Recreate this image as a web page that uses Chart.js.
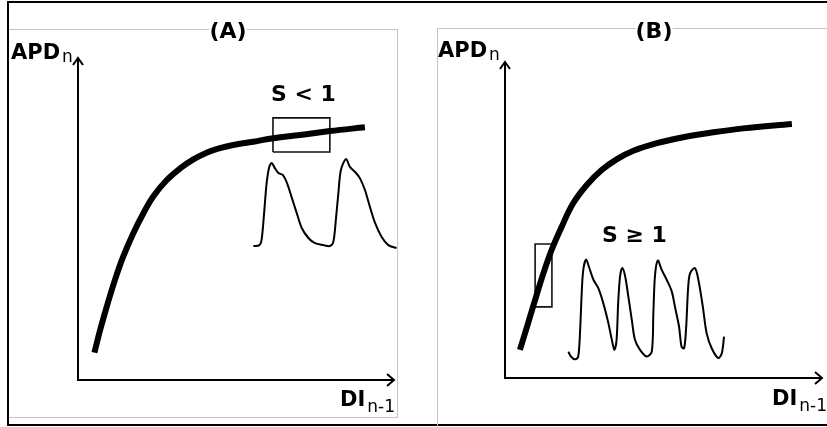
<!DOCTYPE html>
<html>
<head>
<meta charset="utf-8">
<script src="https://cdn.jsdelivr.net/npm/chart.js@4/dist/chart.umd.min.js"></script>
<style>
  body { margin: 0; background: #fff; }
  #page { position: relative; width: 827px; height: 427px; overflow: hidden; background: #fff; font-family: "DejaVu Sans", Verdana, sans-serif; }
  .frame { position: absolute; left: 7px; top: 1px; width: 822px; height: 421px; border-top: 2px solid #000; border-left: 2px solid #000; border-bottom: 2px solid #000; }
  .panelA { position: absolute; left: 9px; top: 29px; width: 388px; height: 387px; border-top: 1px solid #c4c4c4; border-right: 1px solid #c4c4c4; border-bottom: 1px solid #c4c4c4; }
  .panelB { position: absolute; left: 437px; top: 28px; width: 400px; height: 400px; border-top: 1px solid #c4c4c4; border-left: 1px solid #c4c4c4; }
  canvas { position: absolute; }
  .lbl { position: absolute; line-height: 1; font-weight: bold; color: #000; white-space: nowrap; }
  .lbl sub { font-weight: normal; font-size: 17px; vertical-align: -3px; margin-left: 2px; }
  .title { background: #fff; transform: translateX(-50%); font-size: 22px; }
</style>
</head>
<body>
<div id="page">
  <div class="frame"></div>
  <div class="panelA"></div>
  <div class="panelB"></div>
  <canvas id="chartA" width="399" height="422" style="left:8px; top:3px;"></canvas>
  <canvas id="chartB" width="419" height="422" style="left:408px; top:3px;"></canvas>

  <div class="lbl title" style="left:228px; top:20px;">(A)</div>
  <div class="lbl" style="left:11px; top:42px; font-size:21px;">APD<sub>n</sub></div>
  <div class="lbl" style="left:271px; top:83px; font-size:22px;">S &lt; 1</div>
  <div class="lbl" style="left:340px; top:389px; font-size:21px;">DI<sub style="vertical-align:-6px">n-1</sub></div>

  <div class="lbl title" style="left:654px; top:20px;">(B)</div>
  <div class="lbl" style="left:438px; top:40px; font-size:21px;">APD<sub>n</sub></div>
  <div class="lbl" style="left:602px; top:224px; font-size:22px;">S ≥ 1</div>
  <div class="lbl" style="left:772px; top:388px; font-size:21px;">DI<sub style="vertical-align:-6px">n-1</sub></div>
</div>

<script>
// panel A - restitution curve (DI n-1 vs APD n), flat part
var curveAx = [5.2, 7.0, 9.1, 11.7, 14.3, 17.5, 20.7, 23.8, 28.1, 32.3, 36.5, 40.7, 44.9, 49.1, 55.5, 61.8, 70.3, 79.7, 90.8];
var curveAy = [8.5, 15.5, 22.8, 31.1, 38.3, 45.6, 51.8, 57.0, 62.1, 65.7, 68.5, 70.6, 72.0, 73.0, 74.0, 75.1, 76.1, 77.3, 78.5];
var boxAx = [61.7, 79.7, 79.7, 61.7, 61.7];
var boxAy = [70.8, 70.8, 81.4, 81.4, 70.8];
var waveAx = [55.5, 57.4, 58.1, 58.9, 59.7, 60.5, 61.3, 62.3, 63.4, 64.8, 66.0, 67.6, 69.2, 70.8, 72.9, 75.0, 77.6, 79.7, 80.8, 81.6, 82.4, 83.2, 84.8, 86.1, 87.7, 89.2, 90.8, 92.4, 94.0, 96.1, 98.2, 100.8];
var waveAy = [41.6, 41.9, 43.5, 51.9, 61.2, 66.1, 67.4, 65.8, 64.3, 63.7, 61.5, 56.8, 51.9, 47.2, 44.1, 42.5, 41.9, 41.6, 42.9, 49.7, 58.1, 65.2, 68.6, 66.1, 64.6, 62.7, 59.0, 53.7, 48.8, 44.4, 41.9, 41.0];

// panel B - steep part of the curve, alternans
var curveBx = [4.7, 6.3, 7.9, 9.8, 12.1, 14.7, 17.9, 21.5, 25.8, 30.5, 35.2, 40.5, 47.9, 56.2, 64.7, 75.2, 90.5];
var curveBy = [8.9, 14.1, 19.4, 25.7, 33.1, 40.5, 47.9, 55.3, 61.1, 65.8, 69.2, 71.9, 74.3, 76.2, 77.6, 79.0, 80.4];
var boxBx = [9.5, 14.8, 14.8, 9.5, 9.5];
var boxBy = [22.5, 22.5, 42.4, 42.4, 22.5];
var waveBx = [20.0, 20.8, 22.1, 23.1, 23.7, 24.2, 24.7, 25.6, 26.6, 27.9, 29.4, 31.0, 32.6, 33.7, 34.5, 35.2, 35.7, 36.3, 37.0, 37.9, 38.9, 40.0, 41.0, 42.6, 44.7, 46.3, 46.8, 47.3, 48.2, 49.4, 51.0, 52.6, 53.6, 54.9, 55.7, 56.5, 57.1, 57.8, 58.4, 59.9, 61.0, 62.4, 63.6, 65.2, 67.3, 68.4, 69.1];
var waveBy = [8.3, 6.8, 5.9, 6.8, 15.2, 27.0, 34.3, 37.5, 34.8, 31.1, 28.5, 23.7, 17.4, 12.1, 8.9, 12.1, 23.7, 32.2, 34.8, 32.2, 25.8, 18.4, 12.1, 8.9, 6.8, 8.3, 20.5, 32.2, 37.2, 34.3, 31.1, 27.4, 22.6, 16.3, 9.9, 9.4, 15.2, 29.0, 33.2, 34.8, 31.1, 22.6, 14.2, 9.4, 6.3, 7.8, 13.1];

function pts(xs, ys) {
  return xs.map(function (v, i) { return { x: v, y: ys[i] }; });
}

// axes with arrow heads, drawn from the scales
const arrowAxes = {
  id: 'arrowAxes',
  beforeDatasetsDraw(chart) {
    const ctx = chart.ctx;
    const xs = chart.scales.x, ys = chart.scales.y;
    const x0 = Math.round(xs.getPixelForValue(0)), y0 = Math.round(ys.getPixelForValue(0));
    const x1 = xs.getPixelForValue(xs.max), y1 = ys.getPixelForValue(ys.max);
    ctx.save();
    ctx.strokeStyle = '#000';
    ctx.lineWidth = 2;
    ctx.beginPath();
    ctx.moveTo(x0, y1);
    ctx.lineTo(x0, y0);
    ctx.lineTo(x1, y0);
    ctx.stroke();
    ctx.beginPath();
    ctx.moveTo(x1 - 7, y0 - 6);
    ctx.lineTo(x1, y0);
    ctx.lineTo(x1 - 7, y0 + 6);
    ctx.stroke();
    ctx.beginPath();
    ctx.moveTo(x0 - 5, y1 + 7);
    ctx.lineTo(x0, y1);
    ctx.lineTo(x0 + 5, y1 + 7);
    ctx.stroke();
    ctx.restore();
  }
};

function makePanel(id, pad, curve, box, wave) {
  return new Chart(document.getElementById(id), {
    type: 'line',
    data: {
      datasets: [
        { label: 'APD', data: curve, borderColor: '#000', borderWidth: 6, tension: 0.4, pointRadius: 0, clip: false },
        { label: 'box', data: box, borderColor: '#111', borderWidth: 1.6, tension: 0, pointRadius: 0, clip: false },
        { label: 'AP', data: wave, borderColor: '#000', borderWidth: 2, tension: 0.3, pointRadius: 0, clip: false }
      ]
    },
    options: {
      responsive: false,
      animation: false,
      devicePixelRatio: 1,
      events: [],
      layout: { padding: pad },
      plugins: { legend: { display: false }, tooltip: { enabled: false } },
      scales: {
        x: { type: 'linear', display: false, min: 0, max: 100 },
        y: { type: 'linear', display: false, min: 0, max: 100 }
      }
    },
    plugins: [arrowAxes]
  });
}

var chartA = makePanel('chartA', { left: 70, right: 13, top: 55, bottom: 45 },
  pts(curveAx, curveAy), pts(boxAx, boxAy), pts(waveAx, waveAy));
var chartB = makePanel('chartB', { left: 97, right: 5, top: 59, bottom: 47 },
  pts(curveBx, curveBy), pts(boxBx, boxBy), pts(waveBx, waveBy));
</script>
</body>
</html>
